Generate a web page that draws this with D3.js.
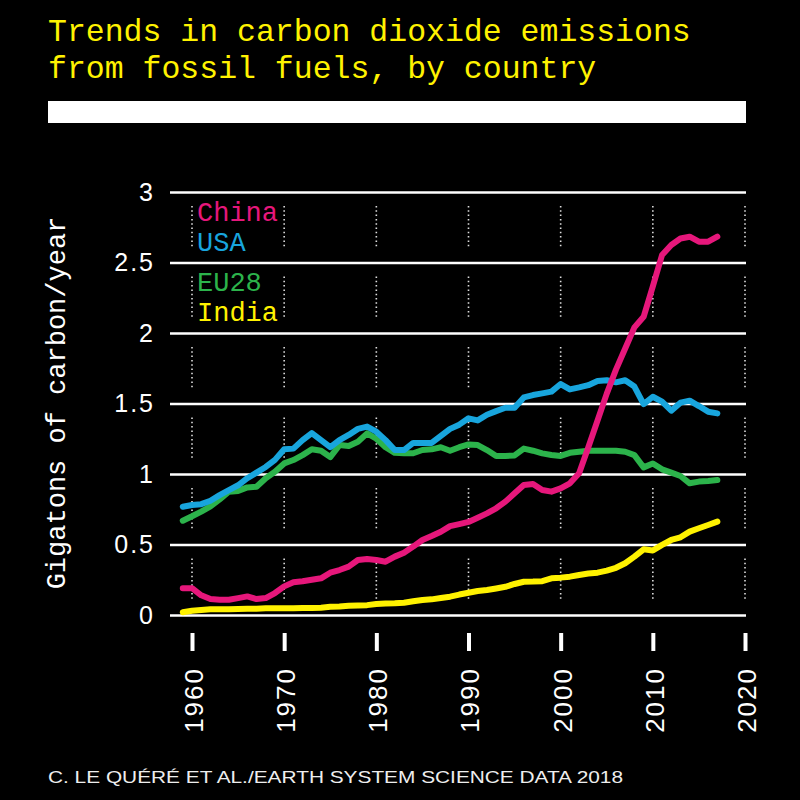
<!DOCTYPE html>
<html>
<head>
<meta charset="utf-8">
<script src="https://cdn.jsdelivr.net/npm/d3@7/dist/d3.min.js"></script>
<style>
  body { margin: 0; background: #000; }
  svg { display: block; background: #000; }
</style>
</head>
<body>
<div id="chart"></div>
<script>
// years 1959-2017, fossil CO2 emissions in GtC/yr
var firstYear = 1959;
var china = [0.19, 0.19, 0.14, 0.113, 0.108, 0.108, 0.12, 0.132, 0.113, 0.12,
  0.156, 0.203, 0.232, 0.239, 0.25, 0.26, 0.30, 0.319, 0.343, 0.39,
  0.397, 0.39, 0.378, 0.414, 0.442, 0.485, 0.532, 0.56, 0.59, 0.63,
  0.645, 0.66, 0.69, 0.721, 0.757, 0.804, 0.863, 0.922, 0.929, 0.887,
  0.875, 0.898, 0.934, 1.005, 1.19, 1.38, 1.57, 1.74, 1.89, 2.04,
  2.115, 2.33, 2.553, 2.624, 2.67, 2.683, 2.648, 2.648, 2.683];
var usa = [0.768, 0.78, 0.786, 0.81, 0.85, 0.886, 0.92, 0.97, 1.01, 1.05,
  1.10, 1.175, 1.18, 1.24, 1.29, 1.24, 1.19, 1.24, 1.277, 1.32,
  1.336, 1.30, 1.24, 1.17, 1.17, 1.22, 1.22, 1.22, 1.27, 1.32,
  1.35, 1.395, 1.38, 1.42, 1.446, 1.47, 1.47, 1.543, 1.56, 1.572,
  1.584, 1.638, 1.60, 1.614, 1.63, 1.66, 1.665, 1.65, 1.665, 1.62,
  1.496, 1.548, 1.513, 1.449, 1.506, 1.52, 1.482, 1.442, 1.43];
var eu28 = [0.669, 0.70, 0.733, 0.77, 0.82, 0.874, 0.88, 0.905, 0.91, 0.97,
  1.016, 1.075, 1.099, 1.134, 1.175, 1.165, 1.12, 1.205, 1.198, 1.229,
  1.288, 1.25, 1.19, 1.15, 1.147, 1.147, 1.17, 1.175, 1.19, 1.165,
  1.19, 1.21, 1.205, 1.17, 1.128, 1.128, 1.132, 1.18, 1.165, 1.146,
  1.135, 1.128, 1.15, 1.158, 1.165, 1.165, 1.165, 1.165, 1.158, 1.134,
  1.047, 1.075, 1.033, 1.01, 0.986, 0.934, 0.946, 0.95, 0.957];
var india = [0.019, 0.03, 0.035, 0.04, 0.04, 0.04, 0.042, 0.044, 0.045, 0.047,
  0.047, 0.047, 0.048, 0.049, 0.05, 0.052, 0.058, 0.06, 0.066, 0.068,
  0.07, 0.078, 0.081, 0.083, 0.087, 0.097, 0.106, 0.111, 0.12, 0.13,
  0.145, 0.158, 0.17, 0.177, 0.188, 0.2, 0.22, 0.236, 0.237, 0.24,
  0.26, 0.265, 0.272, 0.284, 0.294, 0.30, 0.315, 0.335, 0.367, 0.414,
  0.466, 0.457, 0.497, 0.532, 0.551, 0.591, 0.615, 0.638, 0.662];

var countryNames = ['China', 'USA', 'EU28', 'India'];
var yTicks = [0, 0.5, 1, 1.5, 2, 2.5, 3];
var xTicks = [1960, 1970, 1980, 1990, 2000, 2010, 2020];

var colors = {China: '#e6177b', USA: '#18a5dd', EU28: '#2cb34b', India: '#fff200'};

var width = 800, height = 800;
var margin = {left: 170, right: 54, top: 192, bottom: 185};

var svg = d3.select('#chart').append('svg')
    .attr('width', width)
    .attr('height', height);

var x = d3.scaleLinear()
    .domain([1960, 2020])
    .range([192, 745]);

var y = d3.scaleLinear()
    .domain([0, 3])
    .range([615, 192]);

// title
var title = svg.append('text')
    .attr('fill', '#fff200')
    .style('font-family', '"Liberation Mono", "DejaVu Sans Mono", monospace')
    .style('font-size', '31.5px');
title.append('tspan').attr('x', 48).attr('y', 41).text('Trends in carbon dioxide emissions');
title.append('tspan').attr('x', 48).attr('y', 78).text('from fossil fuels, by country');

svg.append('rect')
    .attr('x', 48).attr('y', 101)
    .attr('width', 698).attr('height', 22)
    .attr('fill', '#fff');

// dotted decade lines, broken at each gridline
var dotted = [];
xTicks.forEach(function(yr) {
  for (var i = 0; i < yTicks.length - 1; i++) {
    dotted.push({year: yr, lo: yTicks[i], hi: yTicks[i + 1]});
  }
});
svg.append('g').selectAll('line')
  .data(dotted)
  .enter().append('line')
    .attr('x1', function(d) { return x(d.year); })
    .attr('x2', function(d) { return x(d.year); })
    .attr('y1', function(d) { return y(d.hi) + 14; })
    .attr('y2', function(d) { return y(d.lo) - 14; })
    .attr('stroke', '#ddd')
    .attr('stroke-width', 1.6)
    .attr('stroke-dasharray', '1.5,2.8');

// y axis with full-width gridlines
var yAxis = svg.append('g')
    .attr('transform', 'translate(' + margin.left + ',0)')
    .call(d3.axisLeft(y)
      .tickValues(yTicks)
      .tickSize(-576)
      .tickPadding(15)
      .tickFormat(function(d) { return String(d); }));
yAxis.select('.domain').remove();
yAxis.selectAll('line').attr('stroke', '#fff').attr('stroke-width', 2.5);
yAxis.selectAll('text')
    .attr('fill', '#fff')
    .style('font-family', '"Liberation Sans", Arial, sans-serif')
    .style('font-size', '25px')
    .style('letter-spacing', '2px');

// x axis: detached tick marks and rotated labels
var xAxis = svg.append('g')
    .attr('transform', 'translate(0,633)')
    .call(d3.axisBottom(x)
      .tickValues(xTicks)
      .tickSize(18)
      .tickFormat(d3.format('d')));
xAxis.select('.domain').remove();
xAxis.selectAll('line').attr('stroke', '#fff').attr('stroke-width', 4);
xAxis.selectAll('text')
    .attr('transform', 'rotate(-90)')
    .attr('x', -34)
    .attr('y', 0)
    .attr('dy', '0.4em')
    .attr('text-anchor', 'end')
    .attr('fill', '#fff')
    .style('font-family', '"Liberation Sans", Arial, sans-serif')
    .style('font-size', '26px')
    .style('letter-spacing', '2px');

// y axis title
svg.append('text')
    .attr('transform', 'translate(65,403) rotate(-90)')
    .attr('text-anchor', 'middle')
    .attr('fill', '#fff')
    .style('font-family', '"Liberation Mono", "DejaVu Sans Mono", monospace')
    .style('font-size', '27px')
    .text('Gigatons of carbon/year');

// lines
var series = [
  {name: 'India', values: india},
  {name: 'EU28', values: eu28},
  {name: 'USA', values: usa},
  {name: 'China', values: china}
];

var line = d3.line()
    .x(function(d, i) { return x(firstYear + i); })
    .y(function(d) { return y(d); });

svg.append('g').selectAll('path')
  .data(series)
  .enter().append('path')
    .attr('d', function(d) { return line(d.values); })
    .attr('fill', 'none')
    .attr('stroke', function(d) { return colors[d.name]; })
    .attr('stroke-width', 6)
    .attr('stroke-linejoin', 'round')
    .attr('stroke-linecap', 'round');

// legend
var legendY = [221, 251, 291, 321];
svg.append('g').selectAll('text')
  .data(countryNames)
  .enter().append('text')
    .attr('x', 197)
    .attr('y', function(d, i) { return legendY[i]; })
    .attr('fill', function(d) { return colors[d]; })
    .style('font-family', '"Liberation Mono", "DejaVu Sans Mono", monospace')
    .style('font-size', '27px')
    .text(function(d) { return d; });

// source
svg.append('text')
    .attr('x', 48)
    .attr('y', 783)
    .attr('fill', '#eee')
    .attr('textLength', 575)
    .attr('lengthAdjust', 'spacingAndGlyphs')
    .style('font-family', '"Liberation Sans Narrow", "Liberation Sans", Arial, sans-serif')
    .style('font-size', '17px')
    .text('C. LE QUÉRÉ ET AL./EARTH SYSTEM SCIENCE DATA 2018');
</script>
</body>
</html>
